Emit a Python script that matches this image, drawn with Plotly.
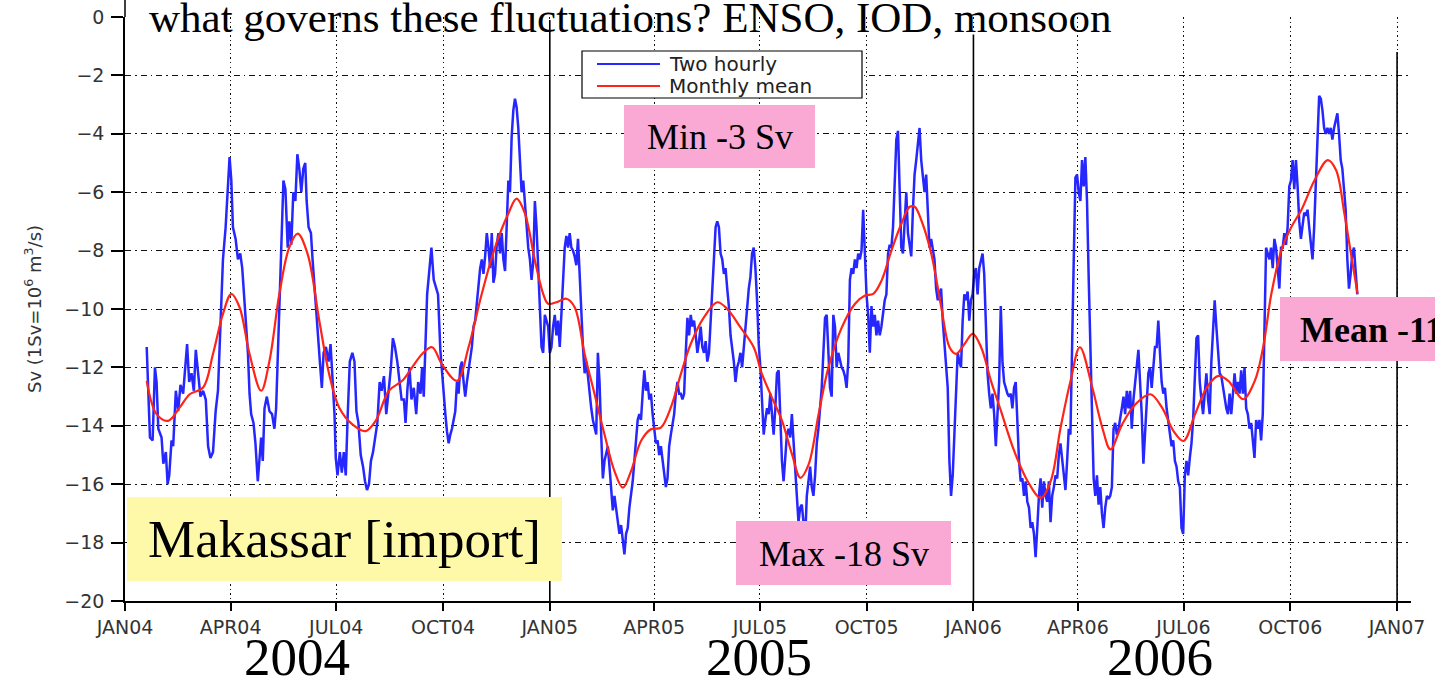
import pandas as pd
import plotly.graph_objects as go

# ---------------------------------------------------------------------------
# Makassar Strait throughflow, Jan 2004 - Nov 2006 (Sv, negative = southward)
# ---------------------------------------------------------------------------
RECORD_START = pd.Timestamp("2004-01-01")

# Two-hourly transport, Jan - Sep 2004 (day of record, Sv)
early_days = [
    18.7, 21.5, 23.8, 25.8, 27.2, 28.7, 31.5, 33.0, 35.2, 36.7,
    38.1, 40.1, 41.5, 43.8, 45.8, 47.8, 50.1, 52.4, 53.5, 55.3,
    57.3, 59.3, 61.0, 63.0, 65.0, 67.3, 69.6, 71.6, 73.6, 75.8,
    78.1, 80.1, 81.6, 83.0, 84.4, 86.7, 88.7, 90.1, 91.6, 93.0,
    95.3, 97.3, 99.3, 101.0, 102.2, 103.9, 105.9, 107.3, 108.7, 110.7,
    112.4, 114.4, 115.9, 117.3, 118.7, 120.2, 122.2, 124.5, 126.7, 128.7,
    130.2, 131.6, 133.0, 134.8, 136.5, 138.2, 140.2, 141.6, 143.3, 145.0,
    146.8, 148.5, 150.2, 151.9, 153.6, 155.3, 156.5, 158.2, 160.2, 161.6,
    163.9, 165.9, 167.9, 169.6, 171.1, 173.1, 175.4, 177.1, 178.8, 180.5,
    181.6, 183.1, 185.1, 186.8, 188.5, 190.2, 191.9, 193.7, 195.9, 197.7,
    199.4, 201.1, 203.1, 205.1, 206.8, 208.5, 210.2, 211.9, 213.7, 215.4,
    217.4, 219.4, 221.1, 223.1, 225.1, 227.4, 229.1, 230.8, 232.6, 234.6,
    236.6, 238.3, 240.3, 241.7, 243.4, 245.1, 246.8, 248.8, 250.9, 252.6,
    254.6, 256.0, 257.4, 258.9, 260.3, 261.7, 264.0, 266.0, 268.0, 269.7,
    271.7, 273.2,
]
early_sv = [
    -11.3, -14.4, -14.5, -12.0, -12.5, -14.1, -14.4, -15.3, -14.9, -16.0,
    -15.7, -14.5, -14.7, -12.8, -13.5, -12.6, -12.9, -11.8, -11.2, -12.5,
    -12.2, -12.8, -11.4, -12.2, -13.0, -12.8, -13.1, -14.7, -15.1, -14.9,
    -13.5, -12.8, -11.3, -9.9, -8.3, -7.2, -6.0, -4.8, -5.6, -7.2,
    -7.6, -8.3, -8.1, -8.6, -9.3, -10.4, -11.5, -12.9, -13.6, -13.9,
    -14.6, -15.9, -15.0, -14.4, -15.2, -13.4, -13.0, -13.5, -13.6, -14.1,
    -13.4, -11.8, -9.5, -7.4, -5.6, -5.9, -7.9, -7.0, -7.8, -6.0,
    -6.3, -4.7, -5.2, -6.0, -5.2, -5.0, -6.3, -7.2, -7.4, -8.3,
    -9.7, -10.9, -11.8, -12.7, -11.5, -11.3, -11.8, -11.2, -12.3, -13.6,
    -15.1, -15.7, -14.9, -15.6, -14.9, -15.7, -13.6, -11.8, -11.5, -11.8,
    -13.5, -13.9, -15.0, -15.4, -15.9, -16.2, -16.0, -15.2, -14.9, -14.5,
    -13.9, -12.5, -12.8, -12.3, -13.6, -12.7, -12.0, -11.0, -11.3, -11.8,
    -12.5, -13.1, -13.1, -13.9, -12.7, -12.0, -13.1, -12.7, -13.6, -12.5,
    -12.9, -12.0, -13.0, -11.4, -9.5, -8.9, -7.9, -9.0, -9.3, -9.5,
    -11.4, -12.3,
]

# Two-hourly transport from 3 Oct 2004 on, one value every 10/7 days (Sv)
late_start = "2004-10-03"
late_step_days = 10 / 7
late_sv = [
    -13.6, -14.2, -14.6, -14.3, -14.1, -13.8, -13.5,
    -12.5, -12.9, -12.0, -11.8, -12.5, -13.0, -12.5,
    -12.0, -11.7, -11.3, -10.6, -10.4, -9.7, -9.0,
    -8.6, -8.3, -8.8, -8.2, -7.4, -7.9, -8.6,
    -7.4, -9.1, -8.8, -7.8, -7.4, -8.1, -7.4,
    -8.3, -8.7, -7.0, -5.6, -6.0, -4.1, -3.2,
    -2.8, -3.1, -3.8, -4.9, -6.0, -5.6, -6.5,
    -7.2, -7.9, -8.3, -9.0, -8.4, -6.3, -7.2,
    -8.6, -9.5, -11.3, -11.5, -10.2, -10.4, -10.6,
    -11.5, -11.3, -10.6, -10.2, -10.9, -10.4, -11.3,
    -10.2, -8.8, -7.9, -7.5, -7.9, -7.4, -7.9,
    -8.0, -8.2, -8.5, -7.6, -8.8, -10.4, -11.3,
    -12.2, -11.8, -12.3, -12.9, -13.4, -13.8, -14.1,
    -14.3, -11.5, -12.5, -14.3, -15.8, -15.2, -14.9,
    -14.7, -15.4, -16.1, -16.9, -16.4, -16.8, -17.3,
    -17.7, -17.4, -18.0, -18.4, -17.7, -17.5, -16.8,
    -16.4, -15.9, -15.2, -14.5, -13.8, -13.6, -13.8,
    -12.9, -12.1, -12.8, -12.5, -13.1, -12.9, -13.6,
    -14.1, -14.6, -14.5, -15.0, -14.7, -15.2, -15.6,
    -16.1, -15.8, -14.7, -14.3, -13.9, -13.6, -12.9,
    -12.5, -12.9, -12.9, -13.1, -12.9, -11.5, -10.3,
    -10.9, -10.2, -10.6, -10.4, -10.9, -11.5, -11.1,
    -10.6, -11.3, -11.5, -11.1, -11.8, -11.5, -10.4,
    -9.0, -7.9, -7.2, -7.0, -7.2, -8.1, -8.3,
    -8.8, -8.6, -9.3, -9.9, -10.9, -11.3, -11.8,
    -12.5, -12.0, -11.8, -11.5, -12.0, -11.3, -10.6,
    -9.7, -9.3, -8.9, -8.1, -7.9, -8.6, -9.7,
    -11.2, -12.0, -13.1, -14.3, -13.8, -13.4, -13.6,
    # 2005 (second half) - early 2006
    -12.9, -13.6, -14.3, -13.4, -12.2, -12.1, -13.6,
    -15.2, -15.9, -15.0, -14.3, -14.1, -14.4, -13.6,
    -14.6, -15.8, -16.4, -17.3, -16.8, -16.7, -17.2,
    -17.9, -16.4, -15.9, -15.4, -16.1, -16.4, -15.7,
    -14.6, -14.1, -13.4, -12.7, -11.5, -10.3, -10.2,
    -11.8, -12.7, -13.0, -10.2, -10.6, -12.0, -11.5,
    -11.8, -12.0, -12.1, -12.3, -12.7, -11.8, -9.0,
    -8.6, -8.8, -8.3, -8.6, -8.1, -8.3, -8.0,
    -6.6, -7.9, -9.5, -10.2, -11.5, -9.9, -10.6,
    -10.2, -10.9, -10.4, -10.9, -10.6, -10.2, -9.7,
    -9.5, -8.1, -7.8, -7.9, -7.2, -5.6, -4.2,
    -3.9, -5.8, -7.9, -8.1, -6.8, -6.0, -7.4,
    -7.9, -8.2, -6.6, -5.4, -4.9, -4.4, -3.8,
    -4.9, -5.4, -6.0, -5.4, -6.7, -7.9, -7.6,
    -7.9, -8.3, -9.3, -9.7, -9.5, -9.3, -10.4,
    -11.1, -11.8, -12.7, -15.2, -16.4, -15.7, -14.1,
    -12.5, -11.5, -11.8, -12.0, -10.4, -9.5, -9.7,
    -9.4, -10.4, -9.7, -9.5, -8.8, -8.6, -9.5,
    -8.6, -8.3, -8.1, -8.8, -10.6, -12.2, -12.9,
    -13.4, -12.9, -13.6, -14.7, -13.8, -12.5, -9.9,
    -11.8, -12.5, -12.7, -12.9, -13.0, -12.9, -13.4,
    -12.7, -12.5, -14.1, -15.2, -15.9, -15.8, -16.4,
    -15.9, -16.6, -16.8, -17.5, -17.3, -17.7, -18.5,
    -17.5, -16.4, -15.8, -16.8, -15.9, -16.4, -16.6,
    -15.9, -17.3, -16.4, -16.1, -15.7, -15.8, -15.0,
    -14.6, -15.2, -15.6, -16.2, -15.2, -14.1, -14.3,
    -11.8, -8.3, -5.5, -5.4, -6.0, -6.3, -4.9,
    # April - November 2006
    -5.8, -4.8, -6.3, -8.9, -11.2, -14.1, -15.8,
    -16.4, -15.7, -16.7, -16.1, -17.0, -17.5, -16.8,
    -16.4, -16.5, -16.4, -16.1, -14.1, -13.9, -14.3,
    -14.1, -13.8, -13.4, -13.0, -13.6, -12.8, -13.4,
    -12.8, -14.1, -13.1, -12.5, -11.8, -11.4, -12.5,
    -13.6, -15.3, -14.1, -12.9, -12.2, -12.0, -12.7,
    -12.0, -11.3, -11.3, -10.4, -11.5, -12.5, -12.9,
    -12.7, -13.4, -13.8, -14.3, -14.7, -14.5, -15.2,
    -15.4, -15.9, -16.1, -17.5, -17.7, -15.7, -15.2,
    -15.7, -15.1, -14.6, -13.8, -12.5, -11.0, -10.9,
    -12.5, -13.1, -13.6, -12.9, -12.2, -13.1, -13.6,
    -11.8, -10.9, -9.7, -10.6, -11.3, -12.2, -12.3,
    -12.7, -13.1, -13.4, -13.6, -12.9, -13.6, -12.7,
    -12.2, -12.9, -12.5, -12.9, -12.1, -12.9, -12.0,
    -13.4, -13.6, -14.1, -13.9, -14.5, -15.1, -13.8,
    -14.1, -13.8, -14.5, -13.6, -10.9, -7.9, -8.1,
    -8.3, -7.9, -8.6, -7.6, -7.9, -8.6, -9.3,
    -7.9, -7.9, -7.4, -7.8, -7.2, -5.8, -5.6,
    -4.9, -5.9, -4.9, -5.8, -7.0, -7.6, -7.2,
    -6.7, -6.8, -6.6, -7.2, -7.9, -8.3, -7.2,
    -5.8, -3.8, -2.7, -2.8, -3.2, -3.8, -4.0,
    -3.8, -4.0, -3.8, -4.2, -3.8, -3.5, -3.3,
    -4.0, -4.9, -5.2, -6.0, -6.6, -8.3, -9.3,
    -8.8, -8.1, -7.9, -8.6, -9.5,
]

# Monthly (running) mean (day of record, Sv)
mean_days = [
    18.7, 27.2, 37.2, 47.2, 55.8, 67.3, 75.8, 84.4, 91.6, 98.7,
    107.3, 117.3, 124.5, 133.0, 141.6, 148.8, 157.3, 167.4, 175.9, 184.5,
    195.9, 207.4, 216.0, 227.4, 238.8, 247.4, 256.0, 264.6, 273.2, 286.0,
    296.0, 307.4, 318.9, 330.3, 337.4, 344.6, 353.1, 360.3, 364.6, 371.7,
    380.3, 387.4, 396.0, 404.6, 413.1, 421.7, 428.9, 436.0, 444.6, 453.1,
    461.7, 470.3, 478.9, 487.4, 498.9, 510.3, 518.9, 530.3, 541.7, 548.5,
    557.0, 566.1, 574.7, 581.9, 589.0, 597.6, 606.1, 617.6, 629.0, 637.6,
    644.7, 651.9, 660.4, 669.0, 676.1, 680.4, 686.1, 694.7, 703.3, 710.4,
    716.1, 723.3, 730.4, 737.6, 746.1, 754.7, 766.1, 777.6, 789.0, 797.6,
    806.1, 814.7, 822.7, 833.4, 842.0, 849.1, 859.1, 870.6, 883.4, 893.4,
    903.4, 912.0, 922.0, 932.0, 942.0, 950.6, 963.4, 973.4, 980.6, 987.7,
    996.3, 1004.9, 1013.4, 1024.9, 1036.3, 1043.4, 1050.6, 1056.3, 1062.0,
]
mean_sv = [
    -12.46, -13.60, -13.83, -13.37, -12.92, -12.69, -11.54, -10.17, -9.48, -9.94,
    -11.54, -12.80, -11.77, -9.48, -7.88, -7.42, -8.11, -10.40, -12.23, -13.37,
    -13.95, -14.18, -13.83, -12.80, -12.46, -12.00, -11.54, -11.31, -11.90, -12.46,
    -11.31, -9.48, -7.88, -6.73, -6.22, -6.73, -8.33, -9.48, -9.82, -9.77,
    -9.65, -9.94, -11.54, -12.92, -14.29, -15.55, -16.12, -15.55, -14.52, -14.12,
    -14.06, -13.37, -12.23, -11.20, -10.28, -9.77, -10.00, -10.63, -11.31, -12.20,
    -13.00, -13.83, -14.98, -15.78, -15.32, -13.60, -12.00, -10.63, -9.82, -9.54,
    -9.48, -9.02, -7.99, -7.07, -6.50, -6.50, -6.96, -8.11, -9.94, -11.31,
    -11.54, -11.20, -10.85, -11.31, -12.46, -13.49, -14.86, -15.89, -16.47, -15.89,
    -14.06, -12.46, -11.31, -12.69, -14.06, -14.81, -13.95, -13.26, -12.92, -13.37,
    -14.18, -14.52, -13.60, -12.69, -12.29, -12.46, -13.09, -12.46, -11.31, -9.48,
    -7.99, -7.19, -6.62, -5.59, -4.90, -5.24, -6.73, -8.11, -9.48,
]

# Axis ticks
tick_dates = [
    "2004-01-01", "2004-04-01", "2004-07-01", "2004-10-01",
    "2005-01-01", "2005-04-01", "2005-07-01", "2005-10-01",
    "2006-01-01", "2006-04-01", "2006-07-01", "2006-10-01", "2007-01-01",
]
tick_text = [
    "JAN04", "APR04", "JUL04", "OCT04", "JAN05", "APR05", "JUL05", "OCT05",
    "JAN06", "APR06", "JUL06", "OCT06", "JAN07",
]
y_ticks = [0, -2, -4, -6, -8, -10, -12, -14, -16, -18, -20]
y_tick_text = ["0" if v == 0 else "\u2212" + str(-v) for v in y_ticks]

# Year boundaries marked with solid lines, and the year captions
year_bounds = ["2005-01-01", "2006-01-01", "2007-01-01"]
year_bound_tops = [-0.1, -0.6, -1.2]
year_labels = ["2004", "2005", "2006"]

# ---------------------------------------------------------------------------
early_time = [RECORD_START + pd.Timedelta(days=d) for d in early_days]
late_time = pd.date_range(late_start, periods=len(late_sv),
                          freq=pd.Timedelta(days=late_step_days))
two_hourly_time = list(early_time) + list(late_time)
two_hourly_sv = early_sv + late_sv
mean_time = [RECORD_START + pd.Timedelta(days=d) for d in mean_days]

# Page layout (pixels)
W, H = 1435, 680
PL, PT, PW, PH = 125, 17, 1286, 584


def fx(px):
    return (px - PL) / PW


def fy(py):
    return (PT + PH - py) / PH


SERIF = "Liberation Serif, Times New Roman, serif"
SANS = "DejaVu Sans, Arial, sans-serif"
BLUE = "#2626ff"
RED = "#ff2418"
PINK = "#f9a9d3"
YELLOW = "#fdf9a9"

fig = go.Figure()
fig.add_trace(go.Scatter(
    x=two_hourly_time, y=two_hourly_sv, mode="lines", name="Two hourly",
    line=dict(color=BLUE, width=2.5), showlegend=False,
))
fig.add_trace(go.Scatter(
    x=mean_time, y=mean_sv, mode="lines", name="Monthly mean",
    line=dict(color=RED, width=2.2, shape="spline", smoothing=1.0),
    showlegend=False,
))

shapes = []
# keep grid lines out of the headline strip
shapes.append(dict(type="rect", xref="paper", yref="paper", x0=-0.01, x1=1.01,
                   y0=fy(56), y1=fy(-5), fillcolor="white",
                   line=dict(width=0), layer="between"))
# y axis continues above the top tick
shapes.append(dict(type="line", xref="paper", yref="paper", x0=0, x1=0,
                   y0=1, y1=fy(0), line=dict(color="black", width=1.5)))
for d, top in zip(year_bounds, year_bound_tops):
    shapes.append(dict(type="line", xref="x", yref="y", x0=d, x1=d,
                       y0=-20, y1=top, line=dict(color="black", width=1.6),
                       layer="above"))

# legend box
shapes.append(dict(type="rect", xref="paper", yref="paper",
                   x0=fx(582), x1=fx(862), y0=fy(98), y1=fy(51),
                   fillcolor="white", line=dict(color="black", width=1.2),
                   layer="above"))
shapes.append(dict(type="line", xref="paper", yref="paper",
                   x0=fx(597), x1=fx(660), y0=fy(64), y1=fy(64),
                   line=dict(color=BLUE, width=2), layer="above"))
shapes.append(dict(type="line", xref="paper", yref="paper",
                   x0=fx(597), x1=fx(660), y0=fy(86), y1=fy(86),
                   line=dict(color=RED, width=2), layer="above"))

# text boxes
boxes = [
    (127, 562, 497, 581, YELLOW),
    (624, 815, 105, 168, PINK),
    (736, 951, 521, 585, PINK),
    (1280, 1445, 297, 361, PINK),
]
for x0, x1, y0, y1, col in boxes:
    shapes.append(dict(type="rect", xref="paper", yref="paper",
                       x0=fx(x0), x1=fx(x1), y0=fy(y1), y1=fy(y0),
                       fillcolor=col, line=dict(width=0), layer="above"))

annotations = []


def note(text, px, py, size, family=SERIF, xanchor="center", color="black"):
    annotations.append(dict(
        text=text, x=fx(px), y=fy(py), xref="paper", yref="paper",
        xanchor=xanchor, yanchor="middle", showarrow=False,
        font=dict(family=family, size=size, color=color),
    ))


note("what governs these fluctuations? ENSO, IOD, monsoon", 147, 18, 43,
     xanchor="left")
note("Two hourly", 667, 64, 20, family=SANS, xanchor="left", color="#222")
note("Monthly mean", 667, 86, 20, family=SANS, xanchor="left", color="#222")
note("Min -3 Sv", 719.5, 137, 36)
note("Max -18 Sv", 843.5, 554, 36)
note("<b>Mean -11 Sv</b>", 1298, 330, 36, xanchor="left")
note("Makassar [import]", 344, 539, 53)
for lbl, cx in zip(year_labels, [297, 759, 1160]):
    note(lbl, cx, 657, 53)

fig.update_layout(
    width=W, height=H,
    margin=dict(l=PL, r=W - PL - PW, t=PT, b=H - PT - PH),
    paper_bgcolor="white", plot_bgcolor="white",
    shapes=shapes, annotations=annotations, showlegend=False,
    xaxis=dict(
        range=["2004-01-01", "2007-01-13"], automargin=False,
        tickmode="array", tickvals=tick_dates, ticktext=tick_text,
        ticks="outside", ticklen=8, tickwidth=1.5, tickcolor="black",
        showline=True, linecolor="black", linewidth=1.5,
        showgrid=True, gridcolor="#111", gridwidth=1.4, griddash="1.5px,3px",
        zeroline=False,
        tickfont=dict(family=SANS, size=19, color="#333"),
    ),
    yaxis=dict(
        range=[-20, 0], automargin=False,
        tickmode="array", tickvals=y_ticks, ticktext=y_tick_text,
        ticks="outside", ticklen=12, tickwidth=1.5, tickcolor="black",
        ticklabelstandoff=3,
        showline=True, linecolor="black", linewidth=1.5,
        showgrid=True, gridcolor="#111", gridwidth=1.1,
        griddash="6px,4px,1.5px,4px",
        zeroline=False,
        tickfont=dict(family=SANS, size=19, color="#333"),
        title=dict(text="Sv (1Sv=10<sup>6</sup> m<sup>3</sup>/s)",
                   font=dict(family=SANS, size=18, color="#333"),
                   standoff=18),
    ),
)

fig.write_html("out.html")
